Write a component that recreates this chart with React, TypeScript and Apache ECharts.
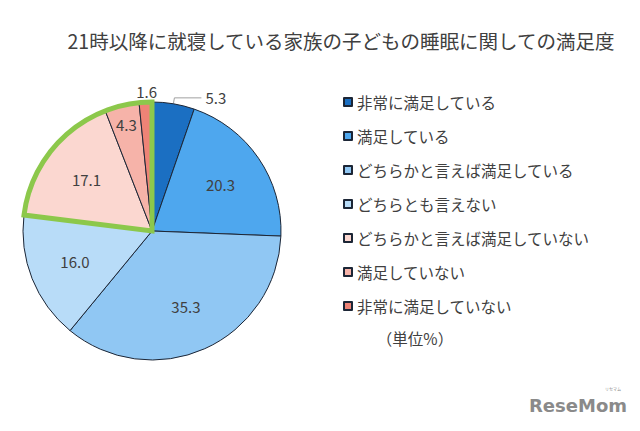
import React, { useEffect, useRef } from "react";
import * as echarts from "echarts";

const titleText = "21時以降に就寝している家族の子どもの睡眠に関しての満足度";
const categories = [
  "非常に満足している",
  "満足している",
  "どちらかと言えば満足している",
  "どちらとも言えない",
  "どちらかと言えば満足していない",
  "満足していない",
  "非常に満足していない",
];
const values = [5.3, 20.3, 35.3, 16.0, 17.1, 4.3, 1.6];
const colors = ["#1b6fc2", "#4ea7ee", "#90c7f3", "#b8dcf8", "#fbd7d0", "#f6b3a9", "#ee8376"];
// which items are shown where
const outsideItems = [0, 6];
const farInsideItems = [5];
const highlightedItems = [4, 5, 6];
const unitText = "（単位%）";

const FONT = '"Noto Sans CJK JP", "Noto Sans", sans-serif';
const TEXT = "#404040";

export default function App() {
  const ref = useRef<HTMLDivElement>(null);
  useEffect(() => {
    if (!ref.current) return;
    const chart = echarts.init(ref.current, undefined, { renderer: "svg" });
    const center = [152, 231];
    const R = 129;
    const fmt = (p: any) => Number(p.value).toFixed(1);

    const mainData = categories.map((name, i) => {
      const isOut = outsideItems.includes(i);
      const item: any = {
        name,
        value: values[i],
        itemStyle: { color: colors[i] },
        label: { show: isOut },
        labelLine: { show: false },
      };
      if (i === 0) {
        item.label = { show: true, position: "outside" };
        item.labelLine = { show: true, length: 6, length2: 27, lineStyle: { color: "#a0a0a0", width: 1 } };
      }
      if (i === 6) {
        item.label = { show: true, position: "outside" };
        item.labelLine = { show: false, length: 11, length2: -16 };
      }
      return item;
    });

    const makeLabelSeries = (inner: number, show: number[]) => ({
      type: "pie",
      silent: true,
      center,
      radius: [inner, R],
      startAngle: 90,
      clockwise: true,
      avoidLabelOverlap: false,
      itemStyle: { color: "transparent", borderWidth: 0 },
      emphasis: { disabled: true },
      label: {
        show: true,
        position: "inside",
        formatter: fmt,
        color: TEXT,
        fontSize: 15,
        fontFamily: FONT,
      },
      labelLine: { show: false },
      data: categories.map((name, i) => ({
        name,
        value: values[i],
        label: { show: show.includes(i) },
      })),
    });

    const insideIdx = categories
      .map((_, i) => i)
      .filter((i) => !outsideItems.includes(i) && !farInsideItems.includes(i));

    const restSum = values.filter((_, i) => !highlightedItems.includes(i)).reduce((a, b) => a + b, 0);
    const hiSum = values.filter((_, i) => highlightedItems.includes(i)).reduce((a, b) => a + b, 0);

    chart.setOption({
      animation: false,
      backgroundColor: "#ffffff",
      color: colors,
      legend: {
        orient: "vertical",
        left: 338,
        top: 89,
        itemWidth: 8,
        itemHeight: 8,
        itemGap: 18,
        icon: "rect",
        selectedMode: false,
        data: categories,
        textStyle: { color: TEXT, fontSize: 15.5, lineHeight: 16, fontFamily: FONT },
      },
      graphic: [
        {
          type: "text",
          x: 341,
          y: 40,
          style: {
            text: titleText,
            fontSize: 19.5,
            fontFamily: FONT,
            fill: TEXT,
            textAlign: "center",
            textVerticalAlign: "middle",
          },
        },
        {
          type: "text",
          x: 415,
          y: 338,
          style: {
            text: unitText,
            fontSize: 15.5,
            fontFamily: FONT,
            fill: TEXT,
            textAlign: "center",
            textVerticalAlign: "middle",
          },
        },
        {
          type: "text",
          x: 578,
          y: 405,
          style: {
            text: "ReseMom",
            fontSize: 18,
            fontWeight: "bold",
            fontFamily: '"DejaVu Sans", sans-serif',
            fill: "#8a8a8a",
            textAlign: "center",
            textVerticalAlign: "middle",
          },
        },
        {
          type: "text",
          x: 613,
          y: 389,
          style: {
            text: "リセマム",
            fontSize: 4,
            fontFamily: FONT,
            fill: "#8a8a8a",
            textAlign: "center",
            textVerticalAlign: "middle",
          },
        },
      ],
      series: [
        {
          type: "pie",
          name: "main",
          center,
          radius: [0, R],
          startAngle: 90,
          clockwise: true,
          avoidLabelOverlap: false,
          itemStyle: { borderColor: "#1c2636", borderWidth: 1 },
          emphasis: { disabled: true },
          label: {
            formatter: fmt,
            color: TEXT,
            fontSize: 15,
            fontFamily: FONT,
            distanceToLabelLine: 4,
          },
          data: mainData,
        },
        makeLabelSeries(31, insideIdx),
        makeLabelSeries(85, farInsideItems),
        {
          type: "pie",
          silent: true,
          center,
          radius: [0, R],
          startAngle: 90,
          clockwise: true,
          label: { show: false },
          labelLine: { show: false },
          emphasis: { disabled: true },
          data: [
            { name: "rest", value: restSum, itemStyle: { color: "transparent", borderWidth: 0 } },
            {
              name: "highlight",
              value: hiSum,
              itemStyle: { color: "transparent", borderColor: "#8cc84b", borderWidth: 5, borderJoin: "miter" },
            },
          ],
        },
      ],
    });
    return () => chart.dispose();
  }, []);
  return (
    <div
      ref={ref}
      style={{ position: "fixed", left: 0, top: 0, width: 640, height: 431, background: "#fff" }}
    />
  );
}
